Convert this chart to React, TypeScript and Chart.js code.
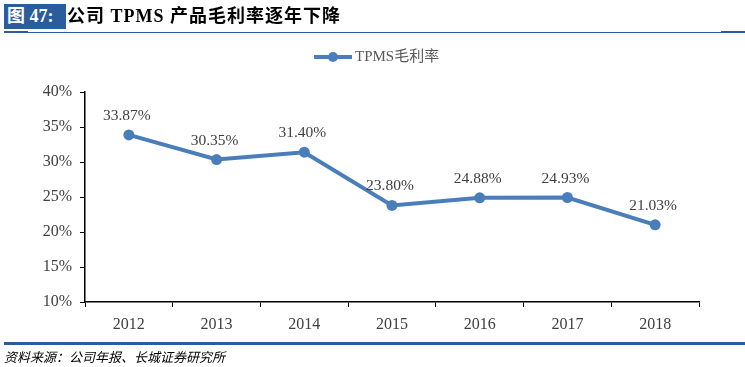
import React, { useEffect, useRef } from "react";
import { Chart, registerables } from "chart.js";

Chart.register(...registerables);

const categories = ["2012", "2013", "2014", "2015", "2016", "2017", "2018"];
const margins = [33.87, 30.35, 31.4, 23.8, 24.88, 24.93, 21.03];
const labels = ["33.87%", "30.35%", "31.40%", "23.80%", "24.88%", "24.93%", "21.03%"];
const seriesName = "TPMS毛利率";
const yTicks = [10, 15, 20, 25, 30, 35, 40];

const LINE_COLOR = "#4a7ebb";
const SERIF = "'Liberation Serif', 'Times New Roman', 'Noto Sans CJK SC', serif";

const labelPlugin = {
  id: "valueLabels",
  afterDatasetsDraw(chart: any) {
    const ctx = chart.ctx;
    const meta = chart.getDatasetMeta(0);
    ctx.save();
    ctx.font = `15.5px ${SERIF}`;
    ctx.fillStyle = "#404040";
    ctx.textAlign = "center";
    ctx.textBaseline = "middle";
    meta.data.forEach((pt: any, i: number) => {
      ctx.fillText(labels[i], pt.x - 2, pt.y - 19);
    });
    ctx.restore();
  },
};

const legendPlugin = {
  id: "customLegend",
  afterDraw(chart: any) {
    const ctx = chart.ctx;
    ctx.save();
    const y = 57;
    ctx.strokeStyle = LINE_COLOR;
    ctx.lineWidth = 4;
    ctx.beginPath();
    ctx.moveTo(314, y);
    ctx.lineTo(352, y);
    ctx.stroke();
    ctx.fillStyle = LINE_COLOR;
    ctx.beginPath();
    ctx.arc(333, y, 5, 0, Math.PI * 2);
    ctx.fill();
    ctx.font = `15px ${SERIF}`;
    ctx.fillStyle = "#595959";
    ctx.textAlign = "left";
    ctx.textBaseline = "middle";
    ctx.fillText(seriesName, 355, y);
    ctx.restore();
  },
};

function LineChart() {
  const ref = useRef<HTMLCanvasElement>(null);
  useEffect(() => {
    if (!ref.current) return;
    const chart = new Chart(ref.current, {
      type: "line",
      data: {
        labels: categories,
        datasets: [
          {
            label: seriesName,
            data: margins,
            borderColor: LINE_COLOR,
            backgroundColor: LINE_COLOR,
            borderWidth: 4,
            pointRadius: 5.5,
            pointHoverRadius: 5.5,
            pointBorderWidth: 0,
            pointBackgroundColor: LINE_COLOR,
            pointBorderColor: LINE_COLOR,
            tension: 0,
          },
        ],
      },
      options: {
        animation: false,
        responsive: false,
        maintainAspectRatio: false,
        layout: { padding: { top: 92, right: 46, left: 0, bottom: 0 } },
        plugins: {
          legend: { display: false },
          tooltip: { enabled: false },
        },
        scales: {
          x: {
            offset: true,
            grid: {
              offset: true,
              drawOnChartArea: false,
              drawTicks: true,
              tickLength: 5,
              tickColor: "#000",
            },
            border: { display: true, color: "#000", width: 1.5 },
            ticks: {
              color: "#404040",
              font: { family: SERIF, size: 16 },
              padding: 8,
              maxRotation: 0,
            },
            afterFit(scale: any) {
              scale.height = 65;
            },
          },
          y: {
            min: 10,
            max: 40,
            afterBuildTicks(scale: any) {
              scale.ticks = yTicks.map((v) => ({ value: v }));
            },
            grid: {
              drawOnChartArea: false,
              drawTicks: true,
              tickLength: 5,
              tickColor: "#000",
            },
            border: { display: true, color: "#000", width: 1.5 },
            ticks: {
              color: "#404040",
              font: { family: SERIF, size: 16 },
              padding: 8,
              callback: (v: any) => `${v}%`,
            },
            afterFit(scale: any) {
              scale.width = 85;
            },
          },
        },
      },
      plugins: [labelPlugin, legendPlugin],
    });
    return () => chart.destroy();
  }, []);
  return <canvas ref={ref} width={745} height={367} style={{ position: "absolute", left: 0, top: 0 }} />;
}

export default function App() {
  const blue = "#2a5c9e";
  return (
    <div style={{ position: "fixed", left: 0, top: 0, width: 745, height: 367, background: "#fff", overflow: "hidden" }}>
      <LineChart />
      <div
        style={{
          position: "absolute",
          left: 4,
          top: 4,
          width: 62,
          height: 25,
          background: blue,
          color: "#fff",
          fontFamily: "'Liberation Serif', 'Noto Sans CJK SC', serif",
          fontWeight: "bold",
          fontSize: 18,
          lineHeight: "25px",
          paddingLeft: 3,
          boxSizing: "border-box",
          whiteSpace: "nowrap",
        }}
      >
        图 47:
      </div>
      <div
        style={{
          position: "absolute",
          left: 67,
          top: 4,
          height: 25,
          color: "#000",
          fontFamily: "'Liberation Serif', 'Noto Sans CJK SC', serif",
          fontWeight: "bold",
          fontSize: 18,
          letterSpacing: 1,
          lineHeight: "25px",
          whiteSpace: "nowrap",
        }}
      >
        公司 TPMS 产品毛利率逐年下降
      </div>
      <div style={{ position: "absolute", left: 4, top: 32, width: 741, height: 1, background: blue }} />
      <div style={{ position: "absolute", left: 4, top: 31, width: 24, height: 2, background: blue }} />
      <div style={{ position: "absolute", left: 721, top: 31, width: 24, height: 2, background: blue }} />
      <div style={{ position: "absolute", left: 4, top: 342, width: 741, height: 3, background: blue }} />
      <div
        style={{
          position: "absolute",
          left: 4,
          top: 348,
          color: "#000",
          fontFamily: "'Noto Sans CJK SC', sans-serif",
          fontStyle: "italic",
          fontSize: 13,
          lineHeight: "18px",
          whiteSpace: "nowrap",
        }}
      >
        资料来源：公司年报、长城证券研究所
      </div>
    </div>
  );
}
